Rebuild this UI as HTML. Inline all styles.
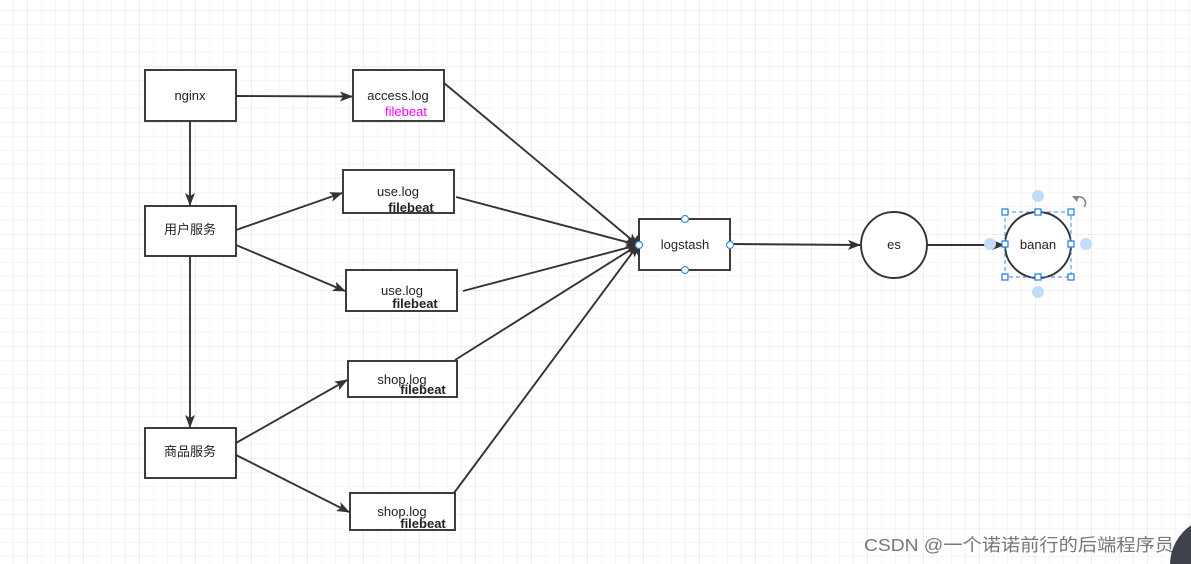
<!DOCTYPE html>
<html><head><meta charset="utf-8"><style>
html,body{margin:0;padding:0;background:#fff;width:1191px;height:564px;overflow:hidden;}
svg{display:block;}
text{font-family:"Liberation Sans","Noto Sans CJK SC",sans-serif;}
</style></head><body>
<svg width="1191" height="564" viewBox="0 0 1191 564" xmlns="http://www.w3.org/2000/svg">
<defs>
<pattern id="g" x="13" y="10" width="14" height="14" patternUnits="userSpaceOnUse">
<path d="M0 0V14M0 0H14" stroke="#ececec" stroke-width="1" fill="none"/>
</pattern>
<pattern id="G" x="27" y="10" width="56" height="56" patternUnits="userSpaceOnUse">
<path d="M0 0V56M0 0H56" stroke="#dedede" stroke-width="1" fill="none"/>
</pattern>
<marker id="a" markerWidth="13" markerHeight="10" refX="12" refY="5" orient="auto" markerUnits="userSpaceOnUse">
<path d="M0 0L13 5L0 10L3 5Z" fill="#333"/>
</marker>
</defs>
<rect width="1191" height="564" fill="#fff"/>
<rect width="1191" height="564" fill="url(#g)"/>
<rect width="1191" height="564" fill="url(#G)"/>
<g stroke="#333" stroke-width="1.9" fill="none">
<line x1="236" y1="96" x2="352" y2="96.5" marker-end="url(#a)"/>
<line x1="190" y1="121" x2="190" y2="205" marker-end="url(#a)"/>
<line x1="190" y1="256" x2="190" y2="427" marker-end="url(#a)"/>
<line x1="236" y1="230" x2="342" y2="193" marker-end="url(#a)"/>
<line x1="236" y1="245" x2="345" y2="291" marker-end="url(#a)"/>
<line x1="236" y1="443" x2="347" y2="380" marker-end="url(#a)"/>
<line x1="236" y1="455" x2="349" y2="512" marker-end="url(#a)"/>
<line x1="444" y1="83" x2="638" y2="245" marker-end="url(#a)"/>
<line x1="456" y1="197" x2="638" y2="245" marker-end="url(#a)"/>
<line x1="463" y1="291" x2="638" y2="245" marker-end="url(#a)"/>
<line x1="455" y1="360" x2="638" y2="245" marker-end="url(#a)"/>
<line x1="454" y1="493" x2="638" y2="245" marker-end="url(#a)"/>
<line x1="730" y1="244" x2="860" y2="245" marker-end="url(#a)"/>
<line x1="927" y1="245" x2="1004" y2="245" marker-end="url(#a)"/>
</g>
<g stroke="#333" stroke-width="1.9" fill="#fff">
<rect x="145" y="70" width="91" height="51"/>
<rect x="353" y="70" width="91" height="51"/>
<rect x="343" y="170" width="111" height="43"/>
<rect x="346" y="270" width="111" height="41"/>
<rect x="348" y="361" width="109" height="36"/>
<rect x="350" y="493" width="105" height="37"/>
<rect x="145" y="206" width="91" height="50"/>
<rect x="145" y="428" width="91" height="50"/>
<rect x="639" y="219" width="91" height="51"/>
<circle cx="894" cy="245" r="33"/>
<circle cx="1038" cy="245" r="33"/>
</g>
<g font-size="13" fill="#222" text-anchor="middle">
<text x="190" y="100">nginx</text>
<text x="398" y="100">access.log</text>
<text x="406" y="116" fill="#ff00ff">filebeat</text>
<text x="398" y="196">use.log</text>
<text x="411" y="212" font-weight="bold">filebeat</text>
<text x="402" y="295">use.log</text>
<text x="415" y="308" font-weight="bold">filebeat</text>
<text x="402" y="384">shop.log</text>
<text x="423" y="394" font-weight="bold">filebeat</text>
<text x="402" y="516">shop.log</text>
<text x="423" y="528" font-weight="bold">filebeat</text>
<text x="190" y="234">用户服务</text>
<text x="190" y="456">商品服务</text>
<text x="685" y="249">logstash</text>
<text x="894" y="249">es</text>
<text x="1038" y="249">banan</text>
</g>
<path d="M640 233 Q626 245 640 257 Z" fill="#333"/>
<g fill="#fff" stroke="#3b8fe6" stroke-width="1.2">
<circle cx="685" cy="219" r="3.5"/><circle cx="685" cy="270" r="3.5"/>
<circle cx="639" cy="245" r="3.5"/><circle cx="730" cy="245" r="3.5"/>
</g>
<g fill="#c4dcfa">
<circle cx="1038" cy="196" r="6"/><circle cx="1038" cy="292" r="6"/>
<circle cx="990" cy="244" r="6"/><circle cx="1086" cy="244" r="6"/>
</g>
<rect x="1005" y="212" width="66" height="65" fill="none" stroke="#3b8fe6" stroke-width="1" stroke-dasharray="4,3"/>
<g fill="#fff" stroke="#1e7ae6" stroke-width="1.2">
<rect x="1002" y="209" width="6" height="6"/><rect x="1035" y="209" width="6" height="6"/><rect x="1068" y="209" width="6" height="6"/>
<rect x="1002" y="241" width="6" height="6"/><rect x="1068" y="241" width="6" height="6"/>
<rect x="1002" y="274" width="6" height="6"/><rect x="1035" y="274" width="6" height="6"/><rect x="1068" y="274" width="6" height="6"/>
</g>
<path d="M1075 199 A6 6 0 1 1 1084 207" fill="none" stroke="#888" stroke-width="1.6"/>
<path d="M1072 196 L1077 202 L1079 196Z" fill="#888"/>
<text x="864" y="551" font-size="17.5" fill="#777" textLength="310" lengthAdjust="spacingAndGlyphs">CSDN @一个诺诺前行的后端程序员</text>
<path d="M1170 564 A48 48 0 0 1 1191 525.3 L1191 564 Z" fill="#3d424b"/>
</svg>
</body></html>
